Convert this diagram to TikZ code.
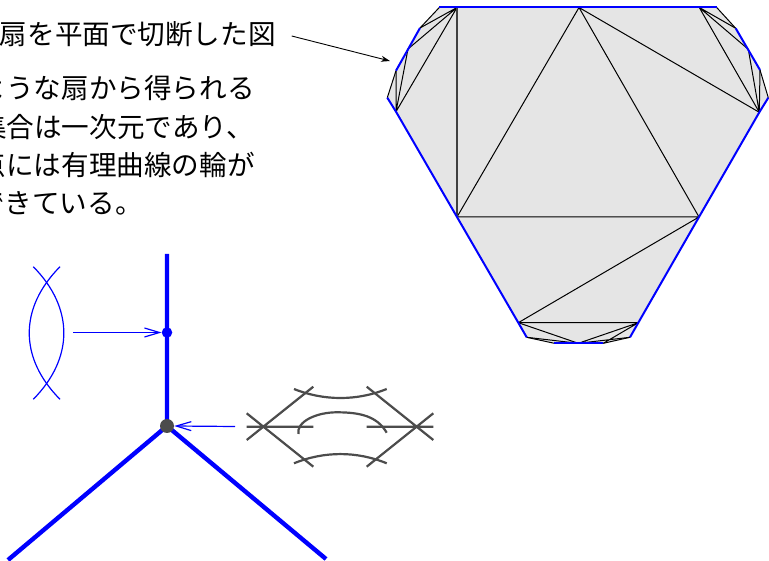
\documentclass[tikz,border=0pt]{standalone}
\usepackage{fontspec}
\setmainfont{Noto Sans CJK JP}[Scale=1]
\usetikzlibrary{arrows.meta}
\tikzset{
 jtext/.style={anchor=base east,inner sep=0pt,font=\fontsize{27.6}{28}\selectfont},
 edge/.style={black,line width=1pt},
 rim/.style={blue,line width=2pt},
 spine/.style={blue,line width=4.4pt},
 grayc/.style={black!70,line width=2.2pt},
 thinb/.style={blue,line width=1.2pt},
 openarrow/.style={thinb,-{Straight Barb[length=15pt,width=9pt,line width=1.2pt]}},
}
\begin{document}
\begin{tikzpicture}[x=1pt,y=-1pt]
\useasboundingbox (0,0) rectangle (769,561);
\clip (0,0) rectangle (769,561);
% polygon vertices
\foreach \n/\x/\y in {a/439.3/7.5,b/457/7.5,c/579/7.5,d/699.3/7.5,e/716.7/7.5,f/735.7/28.3,g/748.3/49.3,h/760/70,i/768.3/97.7,j/759.3/112.3,k/699/217,l/638.3/322.7,m/630/337.3,n/603.3/343.3,o/578.3/343.3,p/554.3/343.3,q/526.7/337.3,r/518.3/322.7,s/457/217,t/396/111.7,u/387.3/97.7,v/396/70.7,w/408/49,y/420/28}
  \coordinate (\n) at (\x,\y);
\fill[black!10] (a)--(e)--(f)--(g)--(h)--(i)--(j)--(k)--(l)--(m)--(n)--(p)--(q)--(r)--(s)--(t)--(u)--(v)--(w)--(y)--cycle;
% triangulation
\draw[edge] (a)--(y) (e)--(f) (h)--(i) (u)--(v) (q)--(p) (n)--(m);
\draw[edge] (b)--(t) (b)--(w) (b)--(y) (w)--(t) (v)--(t);
\draw[edge] (d)--(j) (d)--(g) (d)--(f) (g)--(j) (h)--(j);
\draw[edge] (s)--(c) (c)--(k) (s)--(k) (c)--(j) (k)--(r) (r)--(l);
\draw[edge] (r)--(o) (l)--(o) (l)--(n) (q)--(o) (m)--(o);
\draw[black!75,line width=1.3pt] (b)--(s);
% blue rim
\draw[rim] (a)--(e);
\draw[rim] (y)--(v);
\draw[rim] (f)--(h);
\draw[rim,line join=miter] (u)--(t)--(s)--(r)--(q);
\draw[rim] (i)--(j)--(k)--(l)--(m);
\draw[rim] (p)--(n);
% labels
\node[jtext] (t1) at (276,45) {扇を平面で切断した図};
\node[jtext] (t2) at (255,98.5) {ような扇から得られる};
\node[jtext] (t3) at (254,138) {集合は一次元であり、};
\node[jtext] (t4) at (255,176) {点には有理曲線の輪が};
\node[jtext] (t5) at (143,214) {できている。};
\coordinate (lblend) at (291.7,36);
\coordinate (polyend) at (390,61);
\draw[black,line width=.9pt,-{Stealth[length=9pt,width=6pt]}] (lblend)--(polyend);
% fan
\coordinate (ctr) at (167,426);
\coordinate (up) at (167,254);
\coordinate (dl) at (8,560);
\coordinate (dr) at (326,559);
\draw[spine] (ctr)--(up) (ctr)--(dl) (ctr)--(dr);
\node[circle,fill=blue,inner sep=0pt,minimum size=10.5pt] (bd) at (167,332.5) {};
\node[circle,fill=black!70,inner sep=0pt,minimum size=14pt] (gd) at (ctr) {};
% lens
\coordinate (lna) at (73,332.5);
\coordinate (lnb) at (235,426.5);
\draw[openarrow] (lna)--(bd.west);
\draw[openarrow] (lnb)--(gd.east);
\coordinate (p1) at (33.3,266.7); \coordinate (p2) at (60,266.7);
\coordinate (p3) at (33.3,399.3); \coordinate (p4) at (60,399.3);
\draw[thinb] (p2) .. controls (19,308) and (19,358) .. (p4);
\draw[thinb] (p1) .. controls (74,308) and (74,358) .. (p3);
% gray figure: straight lines through the two hubs
\coordinate (lu) at (246.7,440);   \coordinate (ru) at (313.3,386.7);
\coordinate (ld) at (246.7,413.3); \coordinate (rd) at (313.3,466.7);
\coordinate (lh) at (246.7,426.7); \coordinate (rh) at (313.3,426.7);
\coordinate (mu) at (433.3,440);   \coordinate (nu) at (366.7,386.7);
\coordinate (md) at (433.3,413.3); \coordinate (nd) at (366.7,466.7);
\coordinate (mh) at (433.3,426.7); \coordinate (nh) at (366.7,426.7);
\draw[grayc] (lu)--(ru) (ld)--(rd) (lh)--(rh) (mu)--(nu) (md)--(nd) (mh)--(nh);
% gray figure: arcs
\coordinate (ta) at (294,389);   \coordinate (tb) at (386.7,389);
\coordinate (ba) at (294,463.3); \coordinate (bb) at (386.7,463.3);
\coordinate (ca) at (298.5,434); \coordinate (cb) at (386.7,432.7);
\draw[grayc] (ta) .. controls (324,401) and (357,401) .. (tb);
\draw[grayc] (ba) .. controls (324,451) and (357,451) .. (bb);
\draw[grayc] (ca) .. controls (296,422) and (316,412) .. (338,412.3) .. controls (360,412.5) and (377,416) .. (cb);
\end{tikzpicture}
\end{document}
